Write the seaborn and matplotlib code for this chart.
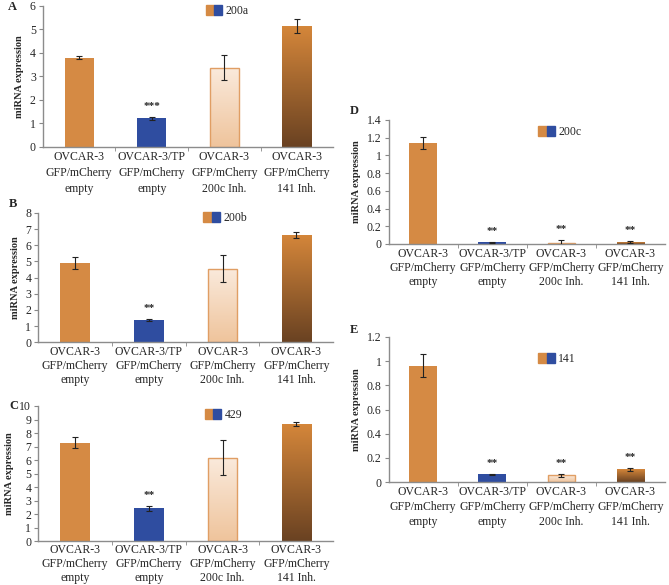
import numpy as np
import pandas as pd
import seaborn as sns
import matplotlib.pyplot as plt
from matplotlib.colors import LinearSegmentedColormap
from matplotlib.patches import Patch
from matplotlib.legend_handler import HandlerTuple

groups = ['OVCAR-3\nGFP/mCherry\nempty', 'OVCAR-3/TP\nGFP/mCherry\nempty',
          'OVCAR-3\nGFP/mCherry\n200c Inh.', 'OVCAR-3\nGFP/mCherry\n141 Inh.']

mir_200a = [3.80, 1.21, 3.37, 5.13]
err_200a = [0.07, 0.05, 0.52, 0.30]
sig_200a = ['', '***', '', '']

mir_200b = [4.90, 1.38, 4.55, 6.65]
err_200b = [0.35, 0.05, 0.85, 0.20]
sig_200b = ['', '**', '', '']

mir_429 = [7.28, 2.42, 6.18, 8.65]
err_429 = [0.40, 0.20, 1.30, 0.15]
sig_429 = ['', '**', '', '']

mir_200c = [1.14, 0.020, 0.015, 0.020]
err_200c = [0.065, 0.004, 0.030, 0.012]
sig_200c = ['', '**', '**', '**']

mir_141 = [0.96, 0.063, 0.055, 0.105]
err_141 = [0.095, 0.005, 0.012, 0.012]
sig_141 = ['', '**', '**', '**']

orange = '#D58A44'
blue = '#2F4DA0'
palette = [orange, blue, '#F3D3B5', '#A8632C']
# gradients for bar 3 and 4 (bottom colour, top colour)
gradients = {2: ('#EFC49C', '#FAEADC'), 3: ('#6A4222', '#D4863A')}

sns.set_style('white')
plt.rcParams['font.family'] = ['Liberation Serif', 'DejaVu Serif']

fig = plt.figure(figsize=(6.69, 5.85), dpi=100)


def draw_panel(rect, name, vals, errs, sigs, ymax, ystep, leg_xy, fmt, spacing, xsize=8.5, xpad=3):
    ax = fig.add_axes(rect)
    df = pd.DataFrame({'group': groups, 'value': vals})
    sns.barplot(data=df, x='group', y='value', hue='group', palette=palette,
                width=0.4, errorbar=None, legend=False, ax=ax, saturation=1)
    for i, cont in enumerate(ax.containers):
        bar = cont.patches[0]
        if i in gradients:
            cmap = LinearSegmentedColormap.from_list('g', gradients[i])
            x0, w, h = bar.get_x(), bar.get_width(), bar.get_height()
            grad = np.linspace(0, 1, 100).reshape(-1, 1)
            im = ax.imshow(grad, cmap=cmap, extent=[x0, x0 + w, 0, h], origin='lower',
                           aspect='auto', zorder=bar.get_zorder() - 0.1)
            im.set_clip_path(bar)
            bar.set_facecolor('none')
            if i == 2:
                bar.set_edgecolor('#E09E64')
                bar.set_linewidth(1.0)
            else:
                bar.set_edgecolor('none')
        else:
            bar.set_edgecolor('none')
    ax.errorbar(range(len(vals)), vals, yerr=errs, fmt='none', ecolor='#222222',
                elinewidth=0.8, capsize=2, capthick=0.8, zorder=5)
    for i, s in enumerate(sigs):
        if s:
            ax.annotate(s, (i, vals[i] + errs[i]), xytext=(0, 7.5), textcoords='offset points',
                        ha='center', va='center', fontsize=8, fontweight='bold')
    ax.set_xlim(-0.5, 3.5)
    ax.set_ylim(0, ymax)
    ticks = np.arange(0, ymax + ystep / 2, ystep)
    ax.set_yticks(ticks)
    ax.set_yticklabels([fmt(v) for v in ticks])
    ax.set_xticks([0.5, 1.5, 2.5], minor=True)
    for lab in ax.get_xticklabels():
        lab.set_linespacing(spacing)
    ax.tick_params(axis='x', which='major', length=0, labelsize=xsize, pad=xpad)
    ax.tick_params(axis='x', which='minor', length=3, direction='out', color='#888888', bottom=True)
    ax.tick_params(axis='y', length=3, direction='out', color='#888888', labelsize=8.5, left=True, pad=2)
    ax.set_xlabel('')
    ax.set_ylabel('miRNA expression', fontsize=7.5, fontweight='bold', labelpad=4)
    for sp in ['top', 'right']:
        ax.spines[sp].set_visible(False)
    for sp in ['left', 'bottom']:
        ax.spines[sp].set_color('#8c8c8c')
        ax.spines[sp].set_linewidth(1.0)
    ax.legend(handles=[(Patch(color=orange), Patch(color=blue))], labels=[name],
              handler_map={tuple: HandlerTuple(ndivide=None, pad=0)},
              loc='center left', bbox_to_anchor=leg_xy, frameon=False, fontsize=8.5,
              handlelength=1.4, handleheight=0.9, borderpad=0, handletextpad=0.3)
    return ax


def int_fmt(v):
    return '%d' % round(v)


def dec_fmt(v):
    v = round(v, 1)
    return '%d' % v if v == int(v) else '%.1f' % v


draw_panel([0.064, 0.749, 0.434, 0.241], '200a', mir_200a, err_200a, sig_200a, 6, 1, (0.54, 0.965), int_fmt, 1.45)
draw_panel([0.057, 0.415, 0.441, 0.221], '200b', mir_200b, err_200b, sig_200b, 8, 1, (0.54, 0.96), int_fmt, 1.2)
draw_panel([0.057, 0.075, 0.441, 0.231], '429', mir_429, err_429, sig_429, 10, 1, (0.545, 0.935), int_fmt, 1.2, 8.5, 2)
draw_panel([0.581, 0.583, 0.413, 0.212], '200c', mir_200c, err_200c, sig_200c, 1.4, 0.2, (0.52, 0.90), dec_fmt, 1.2)
draw_panel([0.581, 0.176, 0.413, 0.248], '141', mir_141, err_141, sig_141, 1.2, 0.2, (0.52, 0.85), dec_fmt, 1.3)

for letter, (lx, ly) in {'A': (8, 7), 'B': (9, 204), 'C': (9, 406), 'D': (350, 111), 'E': (350, 330)}.items():
    fig.text(lx / 669, 1 - ly / 585, letter, fontsize=9, fontweight='bold', ha='left', va='center')

fig.savefig('out.png', dpi=100)
